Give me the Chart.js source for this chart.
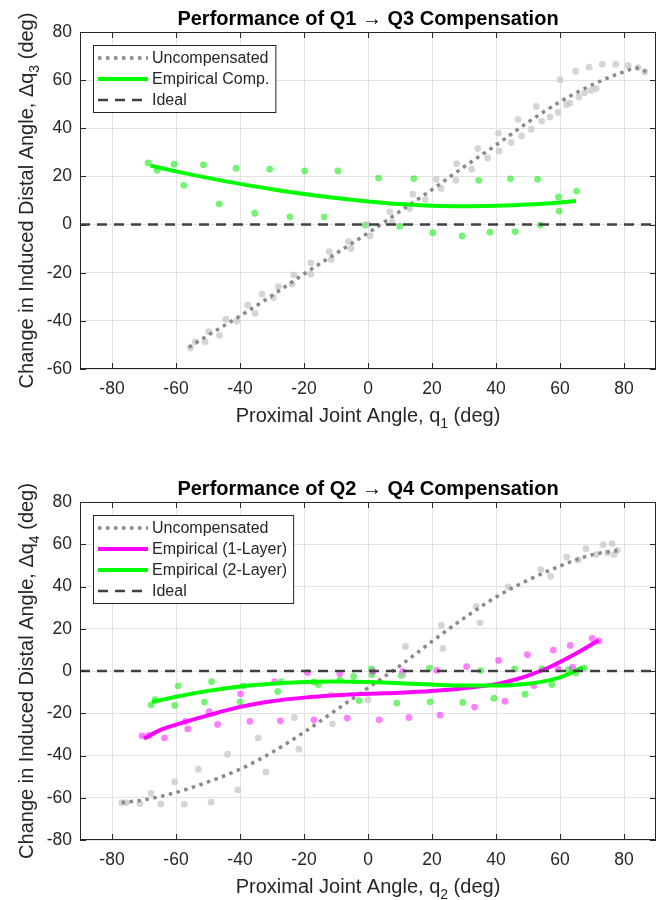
<!DOCTYPE html>
<html>
<head>
<meta charset="utf-8">
<script src="https://cdn.jsdelivr.net/npm/chart.js@4.4.1/dist/chart.umd.min.js"></script>
<style>
  html, body { margin: 0; padding: 0; background: #fff; }
  #wrap { width: 662px; height: 900px; }
  canvas { display: block; }
</style>
</head>
<body>
<div id="wrap">
  <canvas id="chartQ13" width="662" height="450"></canvas>
  <canvas id="chartQ24" width="662" height="450"></canvas>
</div>
<script>
// ---- Panel 1: Q1 -> Q3 ----
const q13ScatterUncompX = [-55.5,-54,-50.9,-49.8,-46.4,-44.4,-41,-37.6,-35.3,-33.1,-29.6,-28,-23.7,-23.2,-17.9,-17.9,-12.1,-11.5,-6.1,-5.3,0,0.7,6.8,7.5,13,14,17.9,21.3,22.9,27.7,27.5,32.4,34.3,37.4,40.8,41,44.7,46.9,48,51,52.6,54.3,56.9,59.4,60,62,63.1,64.9,65.9,69.1,67.7,69.8,71.3,73.2,77.4,81.3,84.4,86.5];
const q13ScatterUncompY = [-51.2,-48.7,-48.7,-44.5,-46,-39.3,-40.1,-33.4,-36.9,-28.9,-30.3,-25.8,-24.7,-20.9,-15.9,-20.6,-11.2,-14.5,-7,-9.9,0,-4.7,5.3,1.1,6.7,12.6,10.4,18.8,15,25.3,18.4,23,31.6,27.7,38,30.6,34.1,43.7,36.8,39.6,49.1,43,44.7,46.6,60.2,49.8,50.4,63.7,53,65.4,54.8,55.8,56.5,66.6,66.6,66.1,65.2,63.4];
const q13ScatterCompX = [-68.7,-65.9,-60.6,-57.6,-51.4,-46.5,-41.2,-35.4,-30.7,-24.4,-19.8,-13.7,-9.4,-0.8,3.3,9.9,14.3,20.2,29.4,34.6,38.1,44.5,46,53,53.8,59.5,59.7,65.2];
const q13ScatterCompY = [25.6,22.6,25.1,16.3,24.8,8.6,23.4,4.7,23,3.2,22.3,3.2,22.3,-0.2,19.3,-0.7,19.1,-3.4,-4.7,18.4,-3.2,19,-2.9,18.8,-0.2,11.5,5.6,13.9];
const q13UncompX = [-56,-50,-40,-30,-20,-10,0,10,20,30,40,50,60,70,80,84,87];
const q13UncompY = [-51,-46,-38,-29.5,-20.5,-12,-3.5,5.5,14.5,24,33,42.5,51,58,63.5,65,63.5];
const q13CompX = [-68,-60,-50,-40,-30,-20,-10,0,10,20,30,40,50,60,65];
const q13CompY = [24.5,22.1,19.4,16.9,14.7,12.7,11,9.6,8.5,7.8,7.6,7.8,8.3,9.2,9.8];
const q13YTicks = [-60,-40,-20,0,20,40,60,80];

// ---- Panel 2: Q2 -> Q4 ----
const q24ScatterUncompX = [-77,-75.5,-71.3,-67.8,-64.7,-60.4,-57.4,-53,-49,-43.9,-40.7,-34.3,-31.9,-23,-21.6,-11.6,-11.1,0,10.9,11.7,22.9,23.4,33.8,35,43.8,54,57.1,62.1,65.7,68.1,71.3,73.5,74.8,76.3,76.9,77.9];
const q24ScatterUncompY = [-62.3,-62.3,-62.8,-57.9,-62.9,-52.4,-63.1,-46.5,-62.1,-39.4,-56.3,-31.7,-47.8,-22,-37,-11.3,-25,-13.6,-1.8,11.6,21.7,10.7,30.6,22.8,39.8,48,44.8,54,52.6,57.9,55.1,59.8,55.9,60.3,55.1,57.1];
const q24Scatter1X = [-70.6,-68.5,-63.6,-57,-56.3,-49.6,-47,-39.8,-36.9,-29.2,-27.4,-18.9,-16.9,-8.8,-6.5,1.6,3.5,10.9,12.8,21.5,22.5,30.8,33.3,40.8,42.8,49.8,51.8,57.9,59.3,63.2,63.9,70.1,72.2];
const q24Scatter1Y = [-30.7,-30.5,-31.7,-23.8,-27.4,-19.3,-25.3,-10.8,-23.8,-5,-23.6,-0.7,-23.1,-1.2,-22.3,-0.2,-23.1,-0.2,-22,0.3,-20.9,2.1,-17.1,5,-14.3,7.7,-6.9,9.9,1,12.1,1.7,15.4,14.2];
const q24Scatter2X = [-67.8,-66.5,-60.4,-59.3,-51.1,-48.9,-40,-38.9,-28.2,-27.1,-16.9,-15.5,-8.8,-4.5,-2.8,1.1,1.2,9,10.4,19.2,19.4,29.6,35.2,39.3,45.8,49.1,54.3,57.4,62.6,64.9,67.6];
const q24Scatter2Y = [-16,-13.6,-16.3,-7,-14.7,-5.1,-14.6,-7,-9.7,-5,-5.3,-6.4,-4.2,-2.6,-14,1,-1.8,-15.2,-2.1,1.4,-14.6,-14.9,0.2,-12.9,1,-11,1,-6.4,0.6,-1,1.4];
const q24UncompX = [-77,-70,-60,-50,-40,-30,-20,-10,0,10,20,30,40,50,60,70,78];
const q24UncompY = [-62.3,-61,-57.5,-52.5,-46.5,-38.5,-29,-18.5,-8,2.5,14,25,35,43,49.7,55,57];
const q24Emp1X = [-70,-65,-60,-50,-40,-30,-20,-10,0,10,20,30,40,45,50,55,60,65,68,72];
const q24Emp1Y = [-32,-28,-25.4,-21,-17,-14.3,-12.6,-11.5,-10.8,-10.3,-9.5,-8.2,-6.2,-4.5,-2.2,0.7,4.3,8.3,10.9,14.5];
const q24Emp2X = [-67.5,-60,-50,-40,-30,-20,-10,0,10,20,30,40,50,55,60,64,67];
const q24Emp2Y = [-14.7,-12.2,-9.4,-7.3,-6,-5.2,-5,-5.2,-5.8,-6.4,-6.9,-6.9,-6,-4.9,-3,-0.5,1.8];
const q24YTicks = [-80,-60,-40,-20,0,20,40,60,80];

// shared
const xTicks = [-80,-60,-40,-20,0,20,40,60,80];
const idealX = [-90, 90];
const idealY = [0, 0];

const FONT = "'Liberation Sans', Arial, Helvetica, sans-serif";
const pts = (xs, ys) => xs.map((x, i) => ({ x: x, y: ys[i] }));

function scatterSet(xs, ys, color) {
    return { data: pts(xs, ys), backgroundColor: color, borderWidth: 0, pointRadius: 3.4, showLine: false, order: 20 };
}
function lineSet(label, xs, ys, color, width, dash, order) {
    return {
        label: label, inLegend: true, data: pts(xs, ys), showLine: true, pointRadius: 0,
        borderColor: color, backgroundColor: color, borderWidth: width, borderDash: dash,
        borderCapStyle: 'butt', cubicInterpolationMode: 'monotone', order: order
    };
}

// draws "main" + subscript + "tail", centred on x
function drawSubText(ctx, t, x, y, size) {
    const big = size + 'px ' + FONT, small = Math.round(size * 0.7) + 'px ' + FONT;
    ctx.font = big;
    const w1 = ctx.measureText(t.main).width, w3 = ctx.measureText(t.tail).width;
    ctx.font = small;
    const w2 = ctx.measureText(t.sub).width;
    let cx = x - (w1 + w2 + w3) / 2;
    ctx.textAlign = 'left';
    ctx.textBaseline = 'alphabetic';
    ctx.font = big; ctx.fillText(t.main, cx, y); cx += w1;
    ctx.font = small; ctx.fillText(t.sub, cx, y + size * 0.3); cx += w2;
    ctx.font = big; ctx.fillText(t.tail, cx, y);
}

const panelDecor = {
    id: 'panelDecor',
    afterDraw(chart, args, opts) {
        const ctx = chart.ctx, a = chart.chartArea;
        const xs = chart.scales.x, ys = chart.scales.y;
        ctx.save();

        // axes box with inward ticks
        ctx.strokeStyle = '#262626';
        ctx.lineWidth = 1;
        ctx.setLineDash([]);
        ctx.strokeRect(a.left + 0.5, a.top + 0.5, a.right - a.left - 1, a.bottom - a.top - 1);
        ctx.beginPath();
        xs.ticks.forEach(t => {
            const px = Math.round(xs.getPixelForValue(t.value)) + 0.5;
            ctx.moveTo(px, a.bottom); ctx.lineTo(px, a.bottom - 6);
            ctx.moveTo(px, a.top); ctx.lineTo(px, a.top + 6);
        });
        ys.ticks.forEach(t => {
            const py = Math.round(ys.getPixelForValue(t.value)) + 0.5;
            ctx.moveTo(a.left, py); ctx.lineTo(a.left + 6, py);
            ctx.moveTo(a.right, py); ctx.lineTo(a.right - 6, py);
        });
        ctx.stroke();

        // title
        ctx.fillStyle = '#000';
        ctx.font = 'bold 20px ' + FONT;
        ctx.textAlign = 'center';
        ctx.textBaseline = 'alphabetic';
        ctx.fillText(opts.title, (a.left + a.right) / 2, a.top - 7);

        // axis titles
        ctx.fillStyle = '#262626';
        drawSubText(ctx, opts.xTitle, (a.left + a.right) / 2, a.bottom + 53, 20);
        ctx.save();
        ctx.translate(33, (a.top + a.bottom) / 2);
        ctx.rotate(-Math.PI / 2);
        drawSubText(ctx, opts.yTitle, 0, 0, 20);
        ctx.restore();

        // legend
        const items = chart.data.datasets.filter(d => d.inLegend);
        ctx.font = '16px ' + FONT;
        const tw = Math.max(...items.map(d => ctx.measureText(d.label).width));
        const lx = a.left + 13, ly = a.top + 13, rowH = 21;
        const lw = 59 + tw + 6, lh = 25 + (items.length - 1) * rowH;
        ctx.fillStyle = '#fff';
        ctx.fillRect(lx, ly, lw, lh);
        ctx.strokeStyle = '#262626';
        ctx.lineWidth = 1;
        ctx.strokeRect(lx + 0.5, ly + 0.5, lw, lh);
        items.forEach((d, i) => {
            const cy = ly + 13 + i * rowH;
            ctx.beginPath();
            ctx.strokeStyle = d.borderColor;
            ctx.lineWidth = d.borderWidth;
            ctx.lineCap = 'butt';
            ctx.setLineDash(d.borderDash || []);
            ctx.moveTo(lx + 5, cy);
            ctx.lineTo(lx + 55, cy);
            ctx.stroke();
            ctx.setLineDash([]);
            ctx.fillStyle = '#262626';
            ctx.textAlign = 'left';
            ctx.textBaseline = 'middle';
            ctx.fillText(d.label, lx + 59, cy + 1);
        });
        ctx.restore();
    }
};

function makePanel(id, datasets, yTicks, yMin, yMax, top, xAxisH, deco) {
    const ctx = document.getElementById(id);
    return new Chart(ctx, {
        type: 'scatter',
        data: { datasets: datasets },
        plugins: [panelDecor],
        options: {
            responsive: false,
            animation: false,
            layout: { padding: { left: 0, right: 6, top: top, bottom: 0 } },
            plugins: {
                legend: { display: false },
                tooltip: { enabled: false },
                panelDecor: deco
            },
            scales: {
                x: {
                    type: 'linear', min: -90, max: 90,
                    afterBuildTicks: s => { s.ticks = xTicks.map(v => ({ value: v })); },
                    afterFit: s => { s.height = xAxisH; },
                    grid: { color: '#e3e3e3', drawTicks: false },
                    border: { display: false },
                    ticks: { font: { family: FONT, size: 17.5 }, color: '#262626', padding: 10, maxRotation: 0 }
                },
                y: {
                    type: 'linear', min: yMin, max: yMax,
                    afterBuildTicks: s => { s.ticks = yTicks.map(v => ({ value: v })); },
                    afterFit: s => { s.width = 80; },
                    grid: { color: '#e3e3e3', drawTicks: false },
                    border: { display: false },
                    ticks: { font: { family: FONT, size: 17.5 }, color: '#262626', padding: 8 }
                }
            }
        }
    });
}

document.addEventListener('DOMContentLoaded', () => {
    makePanel('chartQ13', [
        scatterSet(q13ScatterUncompX, q13ScatterUncompY, 'rgba(195,195,195,0.7)'),
        scatterSet(q13ScatterCompX, q13ScatterCompY, 'rgba(0,235,0,0.55)'),
        lineSet('Uncompensated', q13UncompX, q13UncompY, '#8a8a8a', 3.5, [3.5, 4.5], 5),
        lineSet('Empirical Comp.', q13CompX, q13CompY, '#00ff00', 4, [], 3),
        lineSet('Ideal', idealX, idealY, '#404040', 2.5, [10, 7], 1)
    ], q13YTicks, -60, 80, 32, 81, {
        title: 'Performance of Q1 \u2192 Q3 Compensation',
        xTitle: { main: 'Proximal Joint Angle, q', sub: '1', tail: ' (deg)' },
        yTitle: { main: 'Change in Induced Distal Angle, \u0394q', sub: '3', tail: ' (deg)' }
    });

    makePanel('chartQ24', [
        scatterSet(q24ScatterUncompX, q24ScatterUncompY, 'rgba(195,195,195,0.7)'),
        scatterSet(q24Scatter1X, q24Scatter1Y, 'rgba(255,0,255,0.5)'),
        scatterSet(q24Scatter2X, q24Scatter2Y, 'rgba(0,235,0,0.55)'),
        lineSet('Uncompensated', q24UncompX, q24UncompY, '#8a8a8a', 3.5, [3.5, 4.5], 5),
        lineSet('Empirical (1-Layer)', q24Emp1X, q24Emp1Y, '#ff00ff', 4, [], 4),
        lineSet('Empirical (2-Layer)', q24Emp2X, q24Emp2Y, '#00ff00', 4, [], 3),
        lineSet('Ideal', idealX, idealY, '#404040', 2.5, [10, 7], 1)
    ], q24YTicks, -80, 80, 52, 60, {
        title: 'Performance of Q2 \u2192 Q4 Compensation',
        xTitle: { main: 'Proximal Joint Angle, q', sub: '2', tail: ' (deg)' },
        yTitle: { main: 'Change in Induced Distal Angle, \u0394q', sub: '4', tail: ' (deg)' }
    });
});
</script>
</body>
</html>
